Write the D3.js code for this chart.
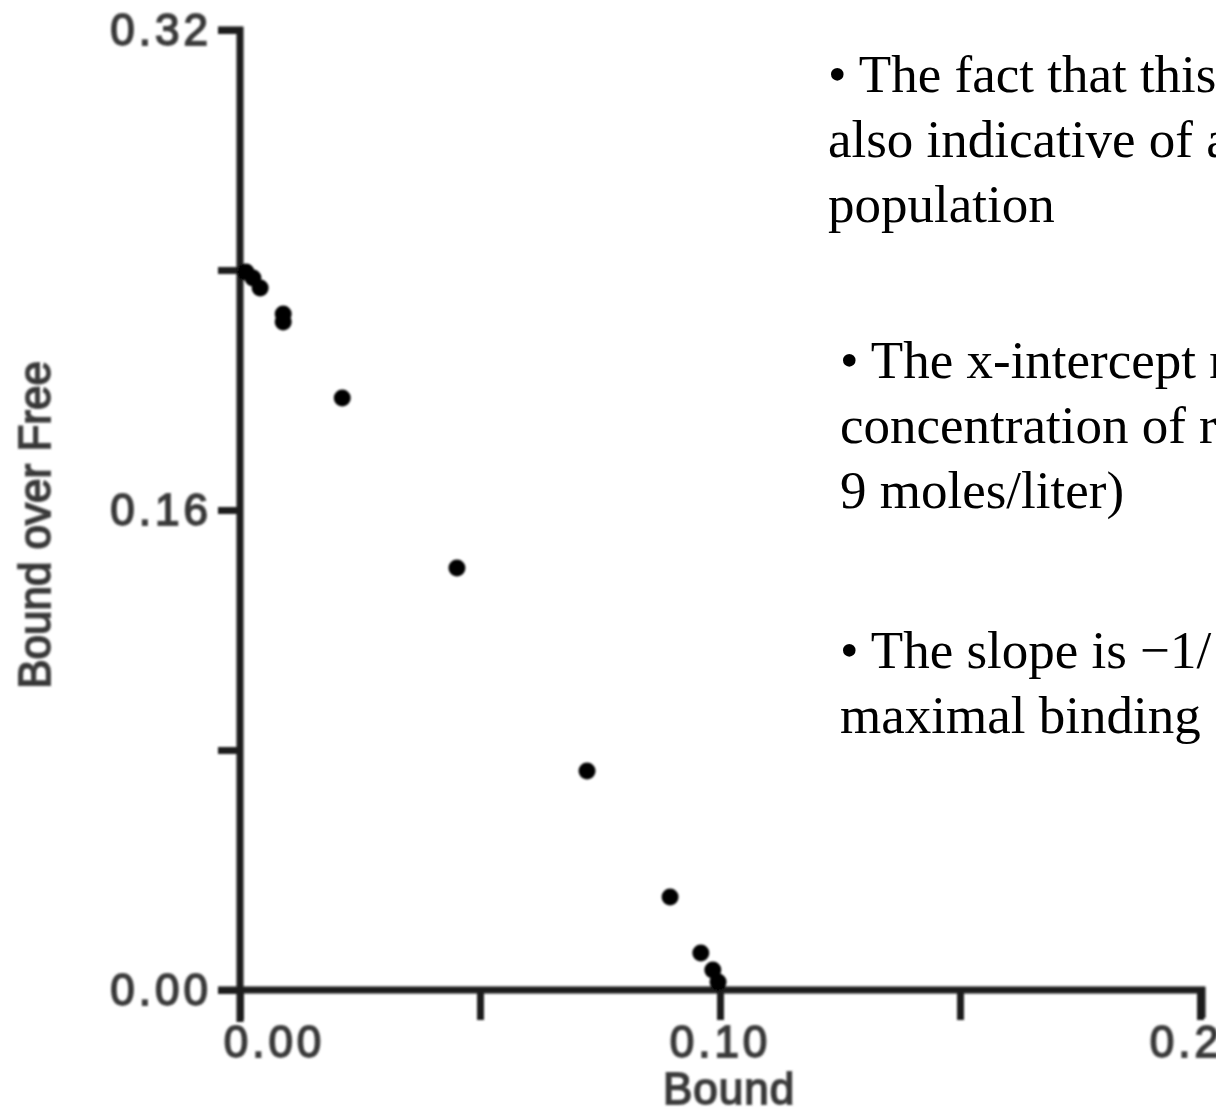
<!DOCTYPE html>
<html>
<head>
<meta charset="utf-8">
<script src="https://cdn.jsdelivr.net/npm/d3@7"></script>
<style>
  body { margin: 0; background: #fff; }
  svg { display: block; }
  .axis path, .axis line { stroke: #1a1a1a; stroke-width: 7; }
  .axis text, .axis-title { font-family: 'Liberation Sans', Arial, sans-serif; font-size: 44px; fill: #333; stroke: #444; stroke-width: 1.8; letter-spacing: 4px; }
  .note { font-family: 'Liberation Serif', 'Times New Roman', serif; font-size: 53px; fill: #000; }
</style>
</head>
<body>
<div id="chart"></div>
<script>
// Scatchard plot data (bound, bound/free)
const bound = [0.00125, 0.0027, 0.0042, 0.009, 0.009, 0.0213, 0.0452, 0.0723, 0.0896, 0.096, 0.0985, 0.0996]
const boundOverFree = [0.2393, 0.2373, 0.234, 0.2253, 0.2227, 0.1973, 0.1407, 0.073, 0.031, 0.0123, 0.0067, 0.0027]

const xTicks = [0, 0.05, 0.10, 0.15, 0.20]
const xTickLabels = ['0.00', '', '0.10', '', '0.20']
const yTicks = [0, 0.08, 0.16, 0.24, 0.32]
const yTickLabels = ['0.00', '', '0.16', '', '0.32']

const notes = [
  ['• The fact that this', 'also indicative of a', 'population'],
  ['• The x-intercept r', 'concentration of r', '9 moles/liter)'],
  ['• The slope is \u22121/', 'maximal binding']
]

const width = 1216
const height = 1115

const svg = d3.select('#chart')
  .append('svg')
  .attr('width', width)
  .attr('height', height)

svg.append('defs')
  .append('filter')
  .attr('id', 'soft')
  .append('feGaussianBlur')
  .attr('stdDeviation', 1.3)

const plot = svg.append('g').attr('filter', 'url(#soft)')

const x = d3.scaleLinear().domain([0, 0.20]).range([240, 1200])
const y = d3.scaleLinear().domain([0, 0.32]).range([990, 30])

const yAxis = d3.axisLeft(y)
  .tickValues(yTicks)
  .tickFormat((d, i) => yTickLabels[i])
  .tickSize(22)
  .tickPadding(6)

plot.append('g')
  .attr('class', 'axis y-axis')
  .attr('transform', 'translate(240,0)')
  .call(yAxis)
  .call(g => g.select('.domain').attr('d', 'M-22,30H0V1022'))

const xAxis = d3.axisBottom(x)
  .tickValues(xTicks)
  .tickFormat((d, i) => xTickLabels[i])
  .tickSize(30)
  .tickPadding(6)

plot.append('g')
  .attr('class', 'axis x-axis')
  .attr('transform', 'translate(0,990)')
  .call(xAxis)
  .call(g => g.select('.domain').attr('d', 'M218,0H1202V28'))

// first x label sits a bit right of its tick
plot.selectAll('.x-axis .tick text')
  .filter(d => d === 0)
  .attr('dx', 34)

plot.append('text')
  .attr('class', 'axis-title')
  .attr('x', 729)
  .attr('y', 1104)
  .attr('text-anchor', 'middle')
  .style('letter-spacing', '1px')
  .text('Bound')

plot.append('text')
  .attr('class', 'axis-title')
  .attr('transform', 'translate(50,525) rotate(-90)')
  .attr('text-anchor', 'middle')
  .style('letter-spacing', '0px')
  .text('Bound over Free')

plot.selectAll('circle')
  .data(bound)
  .enter()
  .append('circle')
  .attr('cx', d => x(d))
  .attr('cy', (d, i) => y(boundOverFree[i]))
  .attr('r', 8.5)
  .attr('fill', '#000')

// text notes on the right
const noteX = [828, 840, 840]
const noteY = [92, 378, 668]
notes.forEach((lines, k) => {
  svg.append('text')
    .attr('class', 'note')
    .attr('x', noteX[k])
    .attr('y', noteY[k])
    .selectAll('tspan')
    .data(lines)
    .enter()
    .append('tspan')
    .attr('x', noteX[k])
    .attr('dy', (d, i) => i === 0 ? 0 : 65)
    .text(d => d)
})
</script>
</body>
</html>
